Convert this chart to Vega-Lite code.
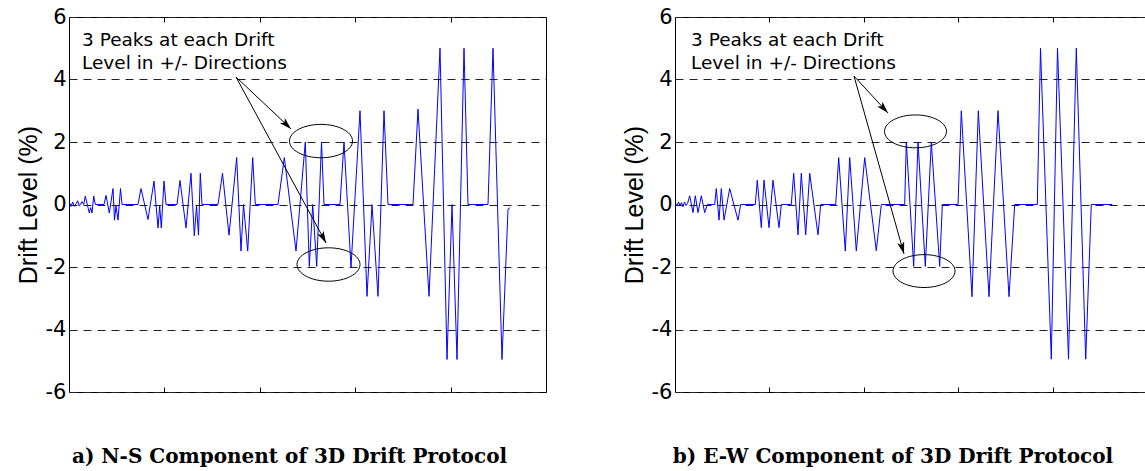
{
  "$schema": "https://vega.github.io/schema/vega-lite/v6.json",
  "padding": {"left": 15, "top": 5, "right": 0, "bottom": 0},
  "spacing": 74,
  "background": "white",
  "config": {
    "font": "DejaVu Sans",
    "view": {"stroke": "#000", "strokeWidth": 1},
    "axisY": {
      "labelFont": "DejaVu Sans", "labelFontSize": 21, "labelColor": "#000", "labelPadding": 3,
      "tickSize": 0, "domain": false,
      "grid": true, "gridDash": [8, 6], "gridColor": "#222", "gridOpacity": 1, "gridWidth": 1,
      "titleFont": "Liberation Sans", "titleFontSize": 25, "titleFontWeight": "normal", "titleColor": "#000", "titlePadding": 4
    },
    "axisX": {
      "labels": false, "title": null, "domain": false, "grid": false,
      "tickSize": -5, "tickColor": "#000", "tickWidth": 1
    }
  },
  "datasets": {
    "ns": [
      {"x": 0.7, "y": 0.05}, {"x": 2, "y": -0.06}, {"x": 3.7, "y": 0.08}, {"x": 5.3, "y": -0.06}, {"x": 7, "y": 0.02},
      {"x": 8.7, "y": 0.12}, {"x": 10.3, "y": -0.05}, {"x": 13, "y": 0.09}, {"x": 14.7, "y": 0.0}, {"x": 16.3, "y": 0.27},
      {"x": 20.3, "y": -0.27}, {"x": 21.7, "y": -0.1}, {"x": 23, "y": -0.27}, {"x": 24.7, "y": 0.27}, {"x": 26.3, "y": 0},
      {"x": 35, "y": 0}, {"x": 37, "y": 0.29}, {"x": 40.3, "y": -0.27}, {"x": 44, "y": 0.51}, {"x": 45.5, "y": -0.5},
      {"x": 47, "y": -0.05}, {"x": 49, "y": -0.5}, {"x": 51.5, "y": 0.51}, {"x": 53, "y": 0}, {"x": 69, "y": 0},
      {"x": 72, "y": 0.51}, {"x": 79, "y": -0.48}, {"x": 85, "y": 0.75}, {"x": 89, "y": -0.75}, {"x": 90.7, "y": -0.05},
      {"x": 92.3, "y": -0.75}, {"x": 95, "y": 0.75}, {"x": 97, "y": 0}, {"x": 108, "y": 0}, {"x": 111, "y": 0.77},
      {"x": 117, "y": -0.75}, {"x": 122, "y": 1.0}, {"x": 125.3, "y": -1.0}, {"x": 127.5, "y": -0.05}, {"x": 129.5, "y": -0.98},
      {"x": 131.3, "y": 1.0}, {"x": 133, "y": 0}, {"x": 149, "y": 0}, {"x": 153.5, "y": 1.0}, {"x": 160, "y": -0.98},
      {"x": 167.7, "y": 1.5}, {"x": 172, "y": -1.49}, {"x": 174.5, "y": 0}, {"x": 178.7, "y": -1.49}, {"x": 183.7, "y": 1.5},
      {"x": 186.3, "y": 0}, {"x": 209, "y": 0}, {"x": 215.3, "y": 1.5}, {"x": 227, "y": -1.49}, {"x": 236.3, "y": 2.0},
      {"x": 240.3, "y": -1.98}, {"x": 243.7, "y": 0}, {"x": 247.7, "y": -1.98}, {"x": 252.5, "y": 2.0}, {"x": 255, "y": 0},
      {"x": 271, "y": 0}, {"x": 275, "y": 2.0}, {"x": 282, "y": -2.0}, {"x": 291, "y": 3.0}, {"x": 298, "y": -2.94},
      {"x": 303, "y": 0}, {"x": 309, "y": -2.94}, {"x": 315, "y": 3.0}, {"x": 319, "y": 0}, {"x": 344, "y": 0},
      {"x": 349, "y": 3.05}, {"x": 360, "y": -2.94}, {"x": 371, "y": 5.0}, {"x": 378, "y": -4.96}, {"x": 383, "y": 0},
      {"x": 388, "y": -4.96}, {"x": 395, "y": 5.0}, {"x": 399, "y": 0}, {"x": 419, "y": 0}, {"x": 424, "y": 5.0},
      {"x": 433, "y": -4.96}, {"x": 439, "y": -0.15}, {"x": 441, "y": -0.1}
    ],
    "ew": [
      {"x": 0.5, "y": 0.05}, {"x": 2, "y": -0.05}, {"x": 3.5, "y": 0.08}, {"x": 5, "y": -0.04}, {"x": 6.5, "y": 0.06},
      {"x": 8, "y": -0.07}, {"x": 9.5, "y": 0.08}, {"x": 11, "y": -0.03}, {"x": 12.5, "y": 0.03}, {"x": 14.7, "y": 0.28},
      {"x": 18, "y": -0.26}, {"x": 20.3, "y": 0.28}, {"x": 23, "y": -0.26}, {"x": 26.3, "y": 0.28}, {"x": 29.7, "y": -0.26},
      {"x": 32.3, "y": 0}, {"x": 39.7, "y": 0}, {"x": 41.3, "y": 0.51}, {"x": 44, "y": -0.5}, {"x": 46.3, "y": 0.51},
      {"x": 49, "y": -0.5}, {"x": 54.7, "y": 0.51}, {"x": 63, "y": -0.5}, {"x": 65.7, "y": 0}, {"x": 80.3, "y": 0},
      {"x": 82.3, "y": 0.78}, {"x": 86.3, "y": -0.74}, {"x": 89, "y": 0.78}, {"x": 94, "y": -0.74}, {"x": 98, "y": 0.78},
      {"x": 104, "y": -0.74}, {"x": 106.3, "y": 0}, {"x": 116.3, "y": 0}, {"x": 118.7, "y": 1.0}, {"x": 123, "y": -0.97},
      {"x": 126.3, "y": 1.0}, {"x": 130.7, "y": -0.97}, {"x": 134.7, "y": 1.0}, {"x": 143, "y": -0.97}, {"x": 145.7, "y": 0},
      {"x": 160.7, "y": 0}, {"x": 163.7, "y": 1.5}, {"x": 170.3, "y": -1.49}, {"x": 174.7, "y": 1.5}, {"x": 181.3, "y": -1.49},
      {"x": 189.7, "y": 1.5}, {"x": 201.3, "y": -1.48}, {"x": 206.3, "y": 0}, {"x": 229.7, "y": 0}, {"x": 231.3, "y": 2.0},
      {"x": 238.7, "y": -1.98}, {"x": 243, "y": 2.0}, {"x": 250.3, "y": -1.98}, {"x": 256.3, "y": 2.0}, {"x": 264.7, "y": -1.98},
      {"x": 267.3, "y": 0}, {"x": 283, "y": 0}, {"x": 286.3, "y": 3.0}, {"x": 297, "y": -2.95}, {"x": 303.3, "y": 3.0},
      {"x": 314, "y": -2.95}, {"x": 323, "y": 3.0}, {"x": 334, "y": -2.95}, {"x": 339.7, "y": 0}, {"x": 362.3, "y": 0},
      {"x": 365.5, "y": 5.0}, {"x": 376.3, "y": -4.95}, {"x": 382.5, "y": 5.0}, {"x": 393.5, "y": -4.95}, {"x": 401.3, "y": 5.0},
      {"x": 410.7, "y": -4.95}, {"x": 416.3, "y": 0}, {"x": 437.3, "y": 0}
    ],
    "txtA": [
      {"x": 13, "y": 5.07, "t": "3 Peaks at each Drift"},
      {"x": 13, "y": 4.34, "t": "Level in +/- Directions"}
    ],
    "txtB": [
      {"x": 16, "y": 5.07, "t": "3 Peaks at each Drift"},
      {"x": 16, "y": 4.34, "t": "Level in +/- Directions"}
    ],
    "ellA": [{"x": 252, "y": 2.03}, {"x": 259.5, "y": -1.92}],
    "ellB": [{"x": 240.5, "y": 2.34}, {"x": 249, "y": -2.13}],
    "arrA": [
      {"id": "up", "x": 167, "y": 4.08, "x2": 222, "y2": 2.42},
      {"id": "down", "x": 167, "y": 4.08, "x2": 257, "y2": -1.23}
    ],
    "arrB": [
      {"id": "up", "x": 179, "y": 4.11, "x2": 213, "y2": 2.93},
      {"id": "down", "x": 179, "y": 4.11, "x2": 229, "y2": -1.58}
    ]
  },
  "hconcat": [
    {
      "width": 477,
      "height": 375,
      "title": {"text": "a) N-S Component of 3D Drift Protocol", "orient": "bottom", "frame": "group", "anchor": "middle", "dx": -18, "offset": 45, "font": "DejaVu Serif", "fontSize": 20, "fontWeight": "bold", "color": "#000"},
      "resolve": {"axis": {"x": "independent"}},
      "layer": [
        {
          "data": {"name": "ns"},
          "mark": {"type": "line", "color": "#0000ff", "strokeWidth": 1},
          "encoding": {
            "x": {"field": "x", "type": "quantitative", "scale": {"domain": [0, 477], "nice": false, "zero": false}, "axis": {"orient": "bottom", "values": [95.4, 190.8, 286.2, 381.6]}},
            "y": {"field": "y", "type": "quantitative", "scale": {"domain": [-6, 6], "nice": false}, "axis": {"title": "Drift Level (%)", "values": [-6, -4, -2, 0, 2, 4, 6], "labelExpr": "datum.value < 0 ? '-' + (-datum.value) : '' + datum.value"}}
          }
        },
        {
          "data": {"name": "ellA"},
          "mark": {"type": "point", "shape": "M-1,0A1,0.53,0,1,1,1,0A1,0.53,0,1,1,-1,0Z", "size": 3969, "filled": false, "stroke": "#000", "strokeWidth": 1, "opacity": 1},
          "encoding": {
            "x": {"field": "x", "type": "quantitative", "axis": {"orient": "top", "values": [95.4, 190.8, 286.2, 381.6]}},
            "y": {"field": "y", "type": "quantitative"}
          }
        },
        {
          "data": {"name": "txtA"},
          "mark": {"type": "text", "align": "left", "baseline": "alphabetic", "fontSize": 18.5, "font": "DejaVu Sans", "color": "#000"},
          "encoding": {
            "x": {"field": "x", "type": "quantitative", "axis": null},
            "y": {"field": "y", "type": "quantitative"},
            "text": {"field": "t"}
          }
        },
        {
          "data": {"name": "arrA"},
          "mark": {"type": "rule", "color": "#000", "strokeWidth": 1},
          "encoding": {
            "x": {"field": "x", "type": "quantitative", "axis": null},
            "y": {"field": "y", "type": "quantitative"},
            "x2": {"field": "x2"},
            "y2": {"field": "y2"}
          }
        },
        {
          "data": {"name": "arrA"},
          "transform": [{"filter": "datum.id == 'up'"}],
          "mark": {"type": "point", "shape": "M0,0L0.6,2L0,1.5L-0.6,2Z", "size": 144, "filled": true, "color": "#000", "opacity": 1, "angle": 134},
          "encoding": {
            "x": {"field": "x2", "type": "quantitative", "axis": null},
            "y": {"field": "y2", "type": "quantitative"}
          }
        },
        {
          "data": {"name": "arrA"},
          "transform": [{"filter": "datum.id == 'down'"}],
          "mark": {"type": "point", "shape": "M0,0L0.6,2L0,1.5L-0.6,2Z", "size": 144, "filled": true, "color": "#000", "opacity": 1, "angle": 152},
          "encoding": {
            "x": {"field": "x2", "type": "quantitative", "axis": null},
            "y": {"field": "y2", "type": "quantitative"}
          }
        }
      ]
    },
    {
      "width": 472,
      "height": 375,
      "title": {"text": "b) E-W Component of 3D Drift Protocol", "orient": "bottom", "frame": "group", "anchor": "middle", "dx": -18, "offset": 45, "font": "DejaVu Serif", "fontSize": 20, "fontWeight": "bold", "color": "#000"},
      "resolve": {"axis": {"x": "independent"}},
      "layer": [
        {
          "data": {"name": "ew"},
          "mark": {"type": "line", "color": "#0000ff", "strokeWidth": 1},
          "encoding": {
            "x": {"field": "x", "type": "quantitative", "scale": {"domain": [0, 472], "nice": false, "zero": false}, "axis": {"orient": "bottom", "values": [94.4, 188.8, 283.2, 377.6]}},
            "y": {"field": "y", "type": "quantitative", "scale": {"domain": [-6, 6], "nice": false}, "axis": {"title": "Drift Level (%)", "values": [-6, -4, -2, 0, 2, 4, 6], "labelExpr": "datum.value < 0 ? '-' + (-datum.value) : '' + datum.value"}}
          }
        },
        {
          "data": {"name": "ellB"},
          "mark": {"type": "point", "shape": "M-1,0A1,0.53,0,1,1,1,0A1,0.53,0,1,1,-1,0Z", "size": 3844, "filled": false, "stroke": "#000", "strokeWidth": 1, "opacity": 1},
          "encoding": {
            "x": {"field": "x", "type": "quantitative", "axis": {"orient": "top", "values": [94.4, 188.8, 283.2, 377.6]}},
            "y": {"field": "y", "type": "quantitative"}
          }
        },
        {
          "data": {"name": "txtB"},
          "mark": {"type": "text", "align": "left", "baseline": "alphabetic", "fontSize": 18.5, "font": "DejaVu Sans", "color": "#000"},
          "encoding": {
            "x": {"field": "x", "type": "quantitative", "axis": null},
            "y": {"field": "y", "type": "quantitative"},
            "text": {"field": "t"}
          }
        },
        {
          "data": {"name": "arrB"},
          "mark": {"type": "rule", "color": "#000", "strokeWidth": 1},
          "encoding": {
            "x": {"field": "x", "type": "quantitative", "axis": null},
            "y": {"field": "y", "type": "quantitative"},
            "x2": {"field": "x2"},
            "y2": {"field": "y2"}
          }
        },
        {
          "data": {"name": "arrB"},
          "transform": [{"filter": "datum.id == 'up'"}],
          "mark": {"type": "point", "shape": "M0,0L0.6,2L0,1.5L-0.6,2Z", "size": 144, "filled": true, "color": "#000", "opacity": 1, "angle": 137},
          "encoding": {
            "x": {"field": "x2", "type": "quantitative", "axis": null},
            "y": {"field": "y2", "type": "quantitative"}
          }
        },
        {
          "data": {"name": "arrB"},
          "transform": [{"filter": "datum.id == 'down'"}],
          "mark": {"type": "point", "shape": "M0,0L0.6,2L0,1.5L-0.6,2Z", "size": 144, "filled": true, "color": "#000", "opacity": 1, "angle": 164},
          "encoding": {
            "x": {"field": "x2", "type": "quantitative", "axis": null},
            "y": {"field": "y2", "type": "quantitative"}
          }
        }
      ]
    }
  ]
}
